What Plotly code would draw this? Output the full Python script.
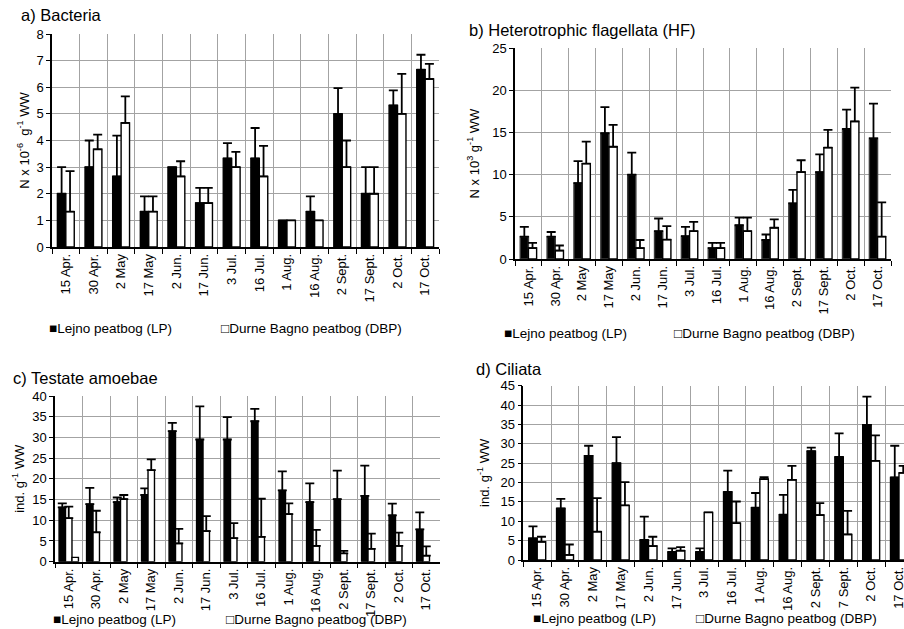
import plotly.graph_objects as go

FONT = "Liberation Sans, Arial, sans-serif"

# ---------------- data ----------------
dates_abc = ["15 Apr.", "30 Apr.", "2 May", "17 May", "2 Jun.", "17 Jun.", "3 Jul.",
             "16 Jul.", "1 Aug.", "16 Aug.", "2 Sept.", "17 Sept.", "2 Oct.", "17 Oct."]
dates_d = ["15 Apr.", "30 Apr.", "2 May", "17 May", "2 Jun.", "17 Jun.", "3 Jul.",
           "16 Jul.", "1 Aug.", "16 Aug.", "2 Sept.", "7 Sept.", "2 Oct.", "17 Oct."]

bact_lp = [2.0, 3.0, 2.65, 1.33, 3.0, 1.65, 3.33, 3.33, 1.0, 1.33, 5.0, 2.0, 5.32, 6.66]
bact_lp_err = [1.0, 1.0, 1.53, 0.57, None, 0.57, 0.57, 1.14, None, 0.57, 0.97, 1.0, 0.56, 0.56]
bact_dbp = [1.33, 3.67, 4.66, 1.33, 2.65, 1.65, 3.0, 2.65, 1.0, 1.0, 3.0, 2.0, 5.0, 6.31]
bact_dbp_err = [1.52, 0.55, 1.0, 0.57, 0.57, 0.57, 0.57, 1.15, None, None, 1.0, 1.0, 1.5, 0.57]

hf_lp = [2.65, 2.65, 9.0, 14.9, 10.0, 3.3, 2.7, 1.3, 4.0, 2.25, 6.6, 10.3, 15.4, 14.3]
hf_lp_err = [1.15, 0.55, 2.6, 3.1, 2.6, 1.5, 1.1, 0.6, 0.9, 0.65, 1.6, 2.1, 2.3, 4.1]
hf_dbp = [1.3, 1.0, 11.3, 13.3, 1.3, 2.3, 3.3, 1.3, 3.3, 3.7, 10.3, 13.2, 16.3, 2.65]
hf_dbp_err = [0.6, 0.6, 2.6, 2.6, 0.95, 1.6, 1.1, 0.6, 1.6, 1.0, 1.4, 2.1, 4.0, 4.05]

ta_lp = [13.1, 13.9, 14.4, 16.1, 31.5, 29.5, 29.5, 33.9, 17.2, 14.4, 15.1, 15.9, 11.2, 7.8]
ta_lp_err = [1.0, 3.9, 1.1, 1.6, 2.0, 8.0, 5.4, 3.0, 4.6, 4.5, 6.9, 7.3, 2.8, 4.1]
ta_dbp = [10.5, 7.1, 15.1, 22.1, 4.4, 7.4, 5.7, 6.0, 11.5, 3.8, 2.0, 3.1, 3.8, 1.45]
ta_dbp_err = [2.8, 5.2, 1.0, 2.6, 3.5, 3.6, 3.6, 9.2, 2.6, 3.9, 0.6, 3.7, 3.2, 2.25]
ta_extra = [1.05, None, None, None, None, None, None, None, None, None, None, None, None, None]

cil_lp = [5.6, 13.3, 26.9, 25.0, 5.2, 2.1, 2.1, 17.6, 13.5, 11.7, 28.1, 26.6, 34.9, 21.3]
cil_lp_err = [3.1, 2.5, 2.6, 6.7, 6.0, 0.9, 0.9, 5.5, 3.8, 5.1, 0.9, 6.1, 7.3, 8.2]
cil_dbp = [4.7, 1.3, 7.3, 14.1, 3.6, 2.4, 12.3, 9.5, 20.9, 20.7, 11.6, 6.6, 25.6, 22.5]
cil_dbp_err = [1.3, 2.7, 8.7, 6.0, 2.4, 0.9, None, 5.6, 0.5, 3.6, 3.1, 6.1, 6.6, 1.8]

name_lp = "Lejno peatbog (LP)"
name_dbp = "Durne Bagno peatbog (DBP)"

# ---------------- figure ----------------
W, H = 904, 629
fig = go.Figure()


def err(vals, w=4.5, th=1.8):
    n = len(vals)
    return dict(type="data", array=vals, arrayminus=[0] * n, symmetric=False,
                color="black", thickness=th, width=w)


def bars(x, y, e, black, xa, ya, name, line_col="black", **kw):
    fig.add_trace(go.Bar(
        x=x, y=y, name=name, xaxis=xa, yaxis=ya, showlegend=False,
        marker=dict(color="black" if black else "white",
                    line=dict(color=line_col, width=1.4)),
        error_y=err(e) if e is not None else None, **kw))


# a) Bacteria
bars(dates_abc, bact_lp, bact_lp_err, True, "x", "y", name_lp)
bars(dates_abc, bact_dbp, bact_dbp_err, False, "x", "y", name_dbp)
# b) HF
bars(dates_abc, hf_lp, hf_lp_err, True, "x2", "y2", name_lp, line_col="#3a3a3a")
bars(dates_abc, hf_dbp, hf_dbp_err, False, "x2", "y2", name_dbp)
# c) Testate amoebae (three bar slots per date)
bw = 0.235
bars(dates_abc, ta_lp, ta_lp_err, True, "x3", "y3", name_lp, offset=-1.5 * bw, width=bw)
bars(dates_abc, ta_dbp, ta_dbp_err, False, "x3", "y3", name_dbp, offset=-0.5 * bw, width=bw)
bars(dates_abc, ta_extra, None, False, "x3", "y3", name_dbp + " ", offset=0.5 * bw, width=bw)
# d) Ciliata
bars(dates_d, cil_lp, cil_lp_err, True, "x4", "y4", name_lp)
bars(dates_d, cil_dbp, cil_dbp_err, False, "x4", "y4", name_dbp)


def px_dom_x(a, b):
    return [a / W, min(b / W, 1.0)]


def px_dom_y(top, bot):
    return [1 - bot / H, 1 - top / H]


grid = "#a3a3a3"
xcommon = dict(type="category", tickson="boundaries", ticks="outside", ticklen=5,
               tickcolor="black", tickwidth=1, showline=True, linecolor="black",
               linewidth=1.5, showgrid=True, gridcolor=grid, gridwidth=1,
               tickangle=-90, tickfont=dict(family=FONT, size=13, color="black"),
               automargin=False, zeroline=False)
ycommon = dict(ticks="outside", ticklen=4, tickcolor="black", tickwidth=1,
               showline=True, linecolor="black", linewidth=1.5, showgrid=True,
               gridcolor=grid, gridwidth=1, zeroline=False,
               tickfont=dict(family=FONT, size=13, color="black"),
               automargin=False, title_font=dict(family=FONT, size=13, color="black"))

fig.update_layout(
    width=W, height=H, margin=dict(l=0, r=0, t=0, b=0),
    paper_bgcolor="white", plot_bgcolor="white",
    barmode="group", bargap=0.39, bargroupgap=0,
    font=dict(family=FONT, color="black"),
    showlegend=False,
    xaxis=dict(xcommon, domain=px_dom_x(52, 439), anchor="y", range=[-0.5, 13.5]),
    yaxis=dict(ycommon, domain=px_dom_y(34, 247), anchor="x", range=[0, 8], dtick=1,
               title=dict(text="N x 10<sup>-6</sup>  g<sup>-1</sup> WW", standoff=4)),
    xaxis2=dict(xcommon, domain=px_dom_x(515, 891), anchor="y2", range=[-0.5, 13.5]),
    yaxis2=dict(ycommon, domain=px_dom_y(48, 259), anchor="x2", range=[0, 25], dtick=5,
                title=dict(text="N x 10<sup>3</sup> g<sup>-1</sup> WW", standoff=10)),
    xaxis3=dict(xcommon, domain=px_dom_x(55, 440), anchor="y3", range=[-0.5, 13.5]),
    yaxis3=dict(ycommon, domain=px_dom_y(396, 561.7), anchor="x3", range=[0, 40], dtick=5,
                title=dict(text="ind. g<sup>-1</sup> WW", standoff=5)),
    xaxis4=dict(xcommon, domain=px_dom_x(523.3, 904), anchor="y4", range=[-0.5, 13.18]),
    yaxis4=dict(ycommon, domain=px_dom_y(385.7, 560), anchor="x4", range=[0, 45], dtick=5,
                title=dict(text="ind. g<sup>-1</sup> WW", standoff=8)),
)

# panel titles
titles = [("a) Bacteria", 19, 15), ("b) Heterotrophic flagellata (HF)", 467, 30),
          ("c) Testate amoebae", 11, 378), ("d) Ciliata", 474, 369)]
for txt, x, y in titles:
    fig.add_annotation(text=txt, x=x / W, y=1 - y / H, xref="paper", yref="paper",
                       xanchor="left", yanchor="middle", showarrow=False,
                       font=dict(family=FONT, size=16.5, color="black"))

# legends (one per panel)
legends = [(47, 219, 328), (502, 672, 333), (51, 224, 619), (531, 694, 618)]
for x1, x2, y in legends:
    fig.add_annotation(text="■" + name_lp, x=x1 / W, y=1 - y / H, xref="paper",
                       yref="paper", xanchor="left", yanchor="middle", showarrow=False,
                       font=dict(family=FONT, size=13.5, color="black"))
    fig.add_annotation(text="□" + name_dbp, x=x2 / W, y=1 - y / H, xref="paper",
                       yref="paper", xanchor="left", yanchor="middle", showarrow=False,
                       font=dict(family=FONT, size=13.5, color="black"))

fig.write_html("out.html", config={"displayModeBar": False},
               post_script="document.body.style.margin='0';document.body.style.overflow='hidden';")
